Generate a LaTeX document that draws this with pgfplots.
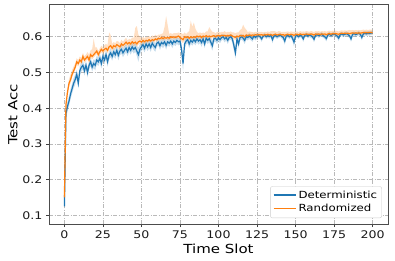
\documentclass[border=0pt]{standalone}
\usepackage{fontspec}
\setmainfont[FakeStretch=1.2]{DejaVu Sans}
\usepackage{pgfplots}
\usepackage{pgfplotstable}
\pgfplotsset{compat=1.18}
\usepgfplotslibrary{fillbetween}
\definecolor{cA}{HTML}{1F77B4}
\definecolor{cB}{HTML}{FF7F0E}
\pgfplotstableread{
t d ds r rl rh
0 0.125 0.008 0.150 0.008 0.008
1 0.385 0.015 0.410 0.012 0.012
2 0.405 0.014 0.445 0.010 0.012
3 0.420 0.014 0.470 0.010 0.012
4 0.440 0.014 0.480 0.010 0.015
5 0.455 0.014 0.495 0.008 0.012
6 0.470 0.014 0.505 0.008 0.012
7 0.480 0.014 0.515 0.008 0.010
8 0.495 0.012 0.530 0.008 0.010
9 0.470 0.014 0.525 0.008 0.010
10 0.505 0.014 0.535 0.008 0.010
11 0.515 0.012 0.530 0.008 0.010
12 0.520 0.012 0.545 0.008 0.010
13 0.505 0.014 0.535 0.008 0.010
14 0.520 0.012 0.540 0.008 0.010
15 0.500 0.014 0.545 0.008 0.012
16 0.520 0.012 0.535 0.008 0.015
17 0.530 0.012 0.550 0.008 0.012
18 0.515 0.012 0.545 0.008 0.020
19 0.525 0.012 0.550 0.008 0.045
20 0.520 0.014 0.555 0.008 0.015
21 0.535 0.012 0.560 0.008 0.010
22 0.530 0.012 0.550 0.008 0.010
23 0.540 0.012 0.558 0.008 0.010
24 0.525 0.014 0.565 0.008 0.010
25 0.545 0.012 0.560 0.008 0.010
26 0.535 0.012 0.565 0.008 0.012
27 0.550 0.012 0.568 0.008 0.012
28 0.530 0.014 0.562 0.008 0.015
29 0.548 0.012 0.572 0.008 0.040
30 0.555 0.012 0.575 0.008 0.030
31 0.545 0.012 0.568 0.008 0.012
32 0.558 0.012 0.575 0.008 0.010
33 0.550 0.012 0.572 0.008 0.010
34 0.562 0.012 0.578 0.008 0.010
35 0.548 0.014 0.575 0.008 0.012
36 0.560 0.012 0.572 0.008 0.010
37 0.565 0.012 0.580 0.008 0.012
38 0.555 0.012 0.576 0.008 0.010
39 0.562 0.012 0.580 0.008 0.012
40 0.568 0.012 0.585 0.008 0.012
41 0.558 0.012 0.580 0.008 0.010
42 0.570 0.012 0.584 0.008 0.010
43 0.562 0.012 0.580 0.008 0.012
44 0.572 0.012 0.586 0.008 0.012
45 0.565 0.012 0.582 0.008 0.015
46 0.570 0.012 0.585 0.008 0.040
47 0.560 0.014 0.580 0.008 0.050
48 0.550 0.020 0.586 0.008 0.020
49 0.565 0.014 0.588 0.008 0.012
50 0.572 0.012 0.585 0.008 0.010
51 0.578 0.012 0.590 0.008 0.010
52 0.568 0.012 0.586 0.006 0.010
53 0.580 0.012 0.590 0.006 0.010
54 0.572 0.012 0.588 0.006 0.012
55 0.580 0.012 0.592 0.006 0.010
56 0.570 0.012 0.588 0.006 0.010
57 0.582 0.010 0.592 0.006 0.012
58 0.575 0.012 0.590 0.006 0.010
59 0.570 0.012 0.594 0.006 0.012
60 0.582 0.010 0.592 0.006 0.010
61 0.585 0.010 0.596 0.006 0.010
62 0.575 0.012 0.594 0.006 0.012
63 0.584 0.010 0.598 0.006 0.010
64 0.580 0.012 0.595 0.006 0.015
65 0.586 0.010 0.598 0.006 0.030
66 0.576 0.012 0.596 0.006 0.062
67 0.586 0.010 0.598 0.006 0.035
68 0.582 0.010 0.596 0.006 0.012
69 0.588 0.010 0.600 0.006 0.010
70 0.580 0.012 0.598 0.006 0.010
71 0.588 0.010 0.600 0.006 0.010
72 0.584 0.010 0.598 0.006 0.012
73 0.590 0.010 0.600 0.006 0.010
74 0.586 0.010 0.602 0.006 0.010
75 0.588 0.010 0.598 0.008 0.012
76 0.565 0.016 0.595 0.008 0.015
77 0.525 0.022 0.592 0.010 0.015
78 0.580 0.014 0.600 0.008 0.012
79 0.588 0.010 0.598 0.008 0.010
80 0.592 0.010 0.600 0.006 0.012
81 0.580 0.012 0.596 0.006 0.020
82 0.590 0.010 0.600 0.006 0.045
83 0.585 0.010 0.598 0.006 0.030
84 0.592 0.010 0.600 0.006 0.040
85 0.586 0.010 0.598 0.006 0.025
86 0.594 0.010 0.602 0.006 0.012
87 0.588 0.010 0.600 0.006 0.010
88 0.592 0.010 0.602 0.006 0.010
89 0.584 0.012 0.598 0.006 0.012
90 0.594 0.010 0.602 0.006 0.010
91 0.580 0.012 0.600 0.006 0.010
92 0.596 0.010 0.603 0.006 0.012
93 0.590 0.010 0.600 0.006 0.015
94 0.595 0.010 0.602 0.006 0.025
95 0.585 0.012 0.600 0.006 0.020
96 0.575 0.014 0.602 0.006 0.012
97 0.594 0.010 0.603 0.006 0.010
98 0.596 0.010 0.600 0.006 0.010
99 0.590 0.010 0.603 0.006 0.010
100 0.597 0.010 0.604 0.006 0.010
101 0.592 0.010 0.602 0.006 0.010
102 0.598 0.008 0.604 0.006 0.010
103 0.600 0.008 0.603 0.006 0.010
104 0.594 0.010 0.604 0.006 0.012
105 0.598 0.008 0.602 0.006 0.010
106 0.590 0.010 0.604 0.006 0.010
107 0.598 0.008 0.603 0.006 0.010
108 0.600 0.008 0.605 0.006 0.010
109 0.594 0.010 0.602 0.006 0.010
110 0.575 0.014 0.600 0.006 0.012
111 0.555 0.016 0.598 0.008 0.012
112 0.594 0.010 0.602 0.006 0.010
113 0.580 0.012 0.600 0.006 0.012
114 0.598 0.008 0.604 0.006 0.015
115 0.600 0.008 0.602 0.006 0.020
116 0.596 0.008 0.604 0.006 0.030
117 0.590 0.010 0.600 0.006 0.025
118 0.600 0.008 0.605 0.006 0.015
119 0.598 0.008 0.603 0.006 0.010
120 0.602 0.008 0.605 0.006 0.010
121 0.598 0.008 0.604 0.006 0.010
122 0.594 0.008 0.605 0.006 0.008
123 0.602 0.008 0.604 0.006 0.008
124 0.598 0.008 0.606 0.006 0.008
125 0.602 0.008 0.605 0.006 0.008
126 0.603 0.006 0.606 0.005 0.008
127 0.600 0.006 0.605 0.005 0.008
128 0.594 0.008 0.606 0.005 0.008
129 0.602 0.006 0.604 0.005 0.008
130 0.604 0.006 0.606 0.005 0.008
131 0.600 0.006 0.605 0.005 0.008
132 0.603 0.006 0.607 0.005 0.008
133 0.601 0.006 0.605 0.005 0.008
134 0.604 0.006 0.606 0.005 0.010
135 0.592 0.010 0.604 0.005 0.012
136 0.602 0.006 0.606 0.005 0.010
137 0.604 0.006 0.607 0.005 0.008
138 0.600 0.006 0.605 0.005 0.008
139 0.603 0.006 0.606 0.005 0.010
140 0.605 0.006 0.607 0.005 0.008
141 0.601 0.006 0.605 0.005 0.008
142 0.598 0.008 0.606 0.005 0.008
143 0.588 0.010 0.604 0.005 0.010
144 0.602 0.006 0.606 0.005 0.008
145 0.604 0.006 0.607 0.005 0.008
146 0.600 0.006 0.605 0.005 0.008
147 0.603 0.006 0.607 0.005 0.008
148 0.596 0.008 0.606 0.005 0.008
149 0.585 0.012 0.604 0.005 0.010
150 0.602 0.006 0.606 0.005 0.008
151 0.604 0.006 0.607 0.005 0.008
152 0.600 0.006 0.605 0.005 0.008
153 0.605 0.006 0.608 0.005 0.008
154 0.602 0.006 0.606 0.005 0.008
155 0.594 0.008 0.607 0.005 0.008
156 0.604 0.006 0.606 0.005 0.008
157 0.606 0.006 0.608 0.005 0.008
158 0.602 0.006 0.607 0.005 0.008
159 0.605 0.006 0.606 0.005 0.008
160 0.603 0.006 0.608 0.005 0.008
161 0.600 0.006 0.607 0.005 0.008
162 0.593 0.008 0.605 0.005 0.008
163 0.604 0.006 0.608 0.005 0.008
164 0.606 0.006 0.607 0.005 0.008
165 0.603 0.006 0.608 0.005 0.008
166 0.605 0.006 0.606 0.005 0.008
167 0.607 0.006 0.608 0.005 0.008
168 0.603 0.006 0.607 0.005 0.008
169 0.600 0.006 0.608 0.005 0.008
170 0.595 0.008 0.606 0.005 0.008
171 0.605 0.006 0.608 0.005 0.008
172 0.607 0.006 0.609 0.005 0.008
173 0.604 0.006 0.607 0.005 0.008
174 0.606 0.006 0.609 0.005 0.008
175 0.608 0.006 0.608 0.005 0.008
176 0.605 0.006 0.609 0.005 0.008
177 0.602 0.006 0.608 0.005 0.008
178 0.596 0.008 0.607 0.005 0.008
179 0.606 0.006 0.609 0.005 0.008
180 0.608 0.006 0.610 0.005 0.008
181 0.605 0.006 0.609 0.005 0.008
182 0.607 0.006 0.610 0.005 0.008
183 0.609 0.006 0.609 0.005 0.008
184 0.606 0.006 0.610 0.005 0.008
185 0.603 0.006 0.609 0.005 0.010
186 0.594 0.008 0.610 0.005 0.008
187 0.607 0.006 0.611 0.005 0.008
188 0.609 0.006 0.610 0.005 0.008
189 0.606 0.006 0.611 0.005 0.008
190 0.608 0.006 0.610 0.005 0.008
191 0.610 0.006 0.611 0.005 0.008
192 0.607 0.006 0.610 0.005 0.008
193 0.598 0.008 0.611 0.005 0.008
194 0.608 0.006 0.612 0.005 0.008
195 0.610 0.006 0.611 0.005 0.008
196 0.608 0.006 0.612 0.005 0.008
197 0.610 0.006 0.611 0.005 0.008
198 0.609 0.006 0.612 0.005 0.008
199 0.611 0.006 0.612 0.005 0.008
200 0.610 0.006 0.611 0.005 0.008
}\data
\begin{document}
\begin{tikzpicture}
\begin{axis}[
  at={(0pt,0pt)}, anchor=south west,
  scale only axis, width=339pt, height=219pt,
  xmin=-10, xmax=210, ymin=0.0757, ymax=0.689,
  xtick={0,25,...,200},
  ytick={0.1,0.2,0.3,0.4,0.5,0.6},
  /pgf/number format/assume math mode=true,
  yticklabel style={/pgf/number format/.cd,fixed,fixed zerofill,precision=1},
  ticklabel style={font=\fontsize{10.5}{12}\selectfont, black!90},
  tick align=outside, tick pos=left,
  major tick length=3pt,
  every tick/.style={black!75, line width=0.7pt},
  axis line style={black!70, line width=1pt},
  grid=major,
  major grid style={gray!55, line width=0.6pt, dash pattern=on 4pt off 1.5pt on 1pt off 1.5pt},
  xlabel={Time Slot}, ylabel={Test Acc},
  label style={font=\fontsize{12.5}{14}\selectfont},
  xlabel style={yshift=1pt},
  ylabel style={yshift=-2pt},
  legend cell align=left,
  legend style={at={(0.982,0.027)}, anchor=south east,
    font=\fontsize{9.8}{11.5}\selectfont,
    draw=black!20, rounded corners=2pt, fill=white,
    inner sep=2.5pt, row sep=0.5pt},
  legend image code/.code={\draw[#1] (0pt,0.5pt) -- (22pt,0.5pt);},
]
\addlegendimage{draw=cA, line width=1.6pt}
\addlegendentry{Deterministic}
\addlegendimage{draw=cB, line width=1.6pt}
\addlegendentry{Randomized}
\addplot[name path=dU, draw=none, forget plot] table[x=t, y expr=\thisrow{d}+\thisrow{ds}] {\data};
\addplot[name path=dL, draw=none, forget plot] table[x=t, y expr=\thisrow{d}-\thisrow{ds}] {\data};
\addplot[fill=cA, fill opacity=0.25, draw=none, forget plot] fill between[of=dU and dL];
\addplot[draw=cA, line width=1.2pt, forget plot] table[x=t, y=d] {\data};
\addplot[name path=rU, draw=none, forget plot] table[x=t, y expr=\thisrow{r}+\thisrow{rh}] {\data};
\addplot[name path=rL, draw=none, forget plot] table[x=t, y expr=\thisrow{r}-\thisrow{rl}] {\data};
\addplot[fill=cB, fill opacity=0.25, draw=none, forget plot] fill between[of=rU and rL];
\addplot[draw=cB, line width=1.2pt, forget plot] table[x=t, y=r] {\data};
\end{axis}
\pgfresetboundingbox
\path[use as bounding box] (-49pt,-36pt) rectangle (346pt,224pt);
\end{tikzpicture}
\end{document}
